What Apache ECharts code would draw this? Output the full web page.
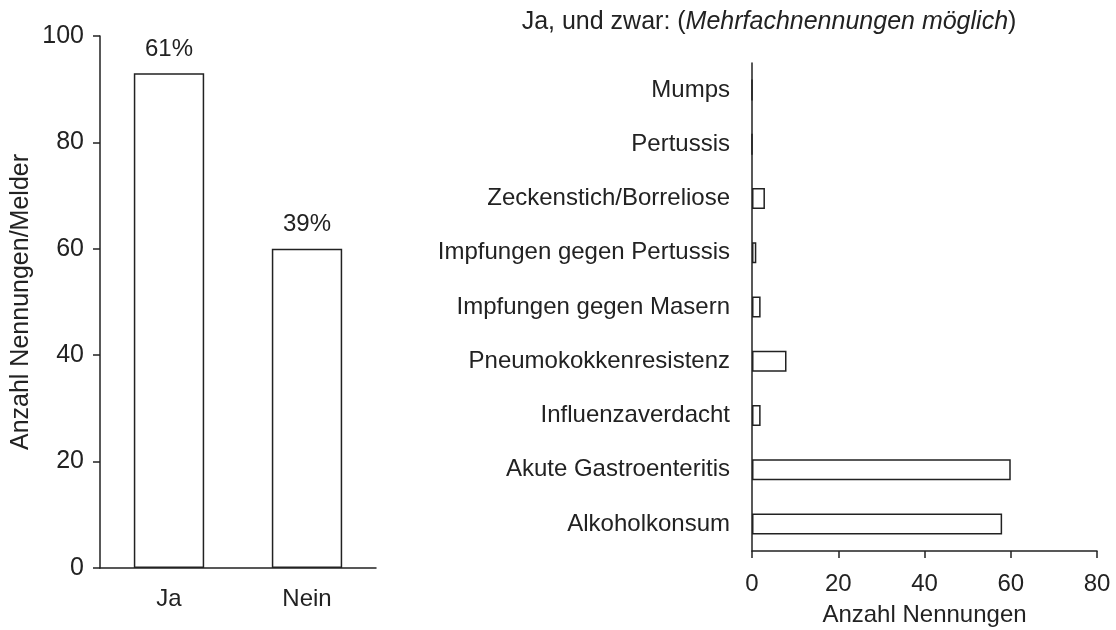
<!DOCTYPE html>
<html>
<head>
<meta charset="utf-8">
<script src="https://cdn.jsdelivr.net/npm/echarts@6/dist/echarts.min.js"></script>
<style>
  html, body { margin: 0; padding: 0; background: #fff; }
  #chart { width: 1116px; height: 630px; }
</style>
</head>
<body>
<div id="chart"></div>
<script>
// left chart: answers
var answerCats = ["Ja", "Nein"];
var answerValues = [93, 60];
var answerPct = ["61%", "39%"];

// right chart: topics (top to bottom)
var topicCats = [
  "Mumps",
  "Pertussis",
  "Zeckenstich/Borreliose",
  "Impfungen gegen Pertussis",
  "Impfungen gegen Masern",
  "Pneumokokkenresistenz",
  "Influenzaverdacht",
  "Akute Gastroenteritis",
  "Alkoholkonsum"
];
var topicValues = [0, 0, 3, 1, 2, 8, 2, 60, 58];

var ink = "#222";
var font = "Liberation Sans";
var fs = 24;

var axisLine = { lineStyle: { color: ink, width: 1.5 } };
var axisTick = { length: 7, lineStyle: { color: ink, width: 1.5 } };
var labelStyle = { color: ink, fontSize: fs, fontFamily: font };

var chart = echarts.init(document.getElementById("chart"));
chart.setOption({
  backgroundColor: "#fff",
  animation: false,
  textStyle: { fontFamily: font },
  title: {
    text: "{n|Ja, und zwar: (}{i|Mehrfachnennungen möglich}{n|)}",
    left: 764,
    top: 5,
    textAlign: "center",
    textStyle: {
      fontWeight: "normal",
      rich: {
        n: { fontSize: 25, color: ink, fontFamily: font },
        i: { fontSize: 25, color: ink, fontFamily: font, fontStyle: "italic" }
      }
    }
  },
  grid: [
    { left: 100, right: 740, top: 36, bottom: 62, outerBoundsMode: "none" },
    { left: 752, right: 19, top: 63, bottom: 79, outerBoundsMode: "none" }
  ],
  xAxis: [
    {
      gridIndex: 0,
      type: "category",
      data: answerCats,
      axisLine: axisLine,
      axisTick: axisTick,
      axisLabel: Object.assign({ margin: 19 }, labelStyle)
    },
    {
      gridIndex: 1,
      type: "value",
      min: 0,
      max: 80,
      interval: 20,
      splitLine: { show: false },
      axisLine: Object.assign({ show: true }, axisLine),
      axisTick: Object.assign({ show: true }, axisTick),
      axisLabel: Object.assign({ margin: 21 }, labelStyle),
      name: "Anzahl Nennungen",
      nameLocation: "middle",
      nameGap: 52,
      nameTextStyle: { color: ink, fontSize: fs, fontFamily: font }
    }
  ],
  yAxis: [
    {
      gridIndex: 0,
      type: "value",
      min: 0,
      max: 100,
      interval: 20,
      splitLine: { show: false },
      axisLine: Object.assign({ show: true }, axisLine),
      axisTick: Object.assign({ show: true }, axisTick),
      axisLabel: Object.assign({ margin: 16 }, labelStyle, { fontSize: 25 }),
      name: "Anzahl Nennungen/Melder",
      nameLocation: "middle",
      nameGap: 66,
      nameTextStyle: { color: ink, fontSize: 25, fontFamily: font }
    },
    {
      gridIndex: 1,
      type: "category",
      data: topicCats,
      inverse: true,
      axisLine: axisLine,
      axisTick: { show: false },
      axisLabel: Object.assign({ margin: 22 }, labelStyle)
    }
  ],
  series: [
    {
      type: "bar",
      xAxisIndex: 0,
      yAxisIndex: 0,
      data: answerValues,
      barWidth: "51%",
      itemStyle: { color: "#fff", borderColor: ink, borderWidth: 1.5 },
      label: {
        show: true,
        position: "top",
        distance: 12,
        color: ink,
        fontSize: fs,
        fontFamily: font,
        formatter: function (p) { return answerPct[p.dataIndex]; }
      }
    },
    {
      type: "bar",
      xAxisIndex: 1,
      yAxisIndex: 1,
      data: topicValues,
      barWidth: 21,
      itemStyle: { color: "#fff", borderColor: ink, borderWidth: 1.5 }
    }
  ]
});
</script>
</body>
</html>
